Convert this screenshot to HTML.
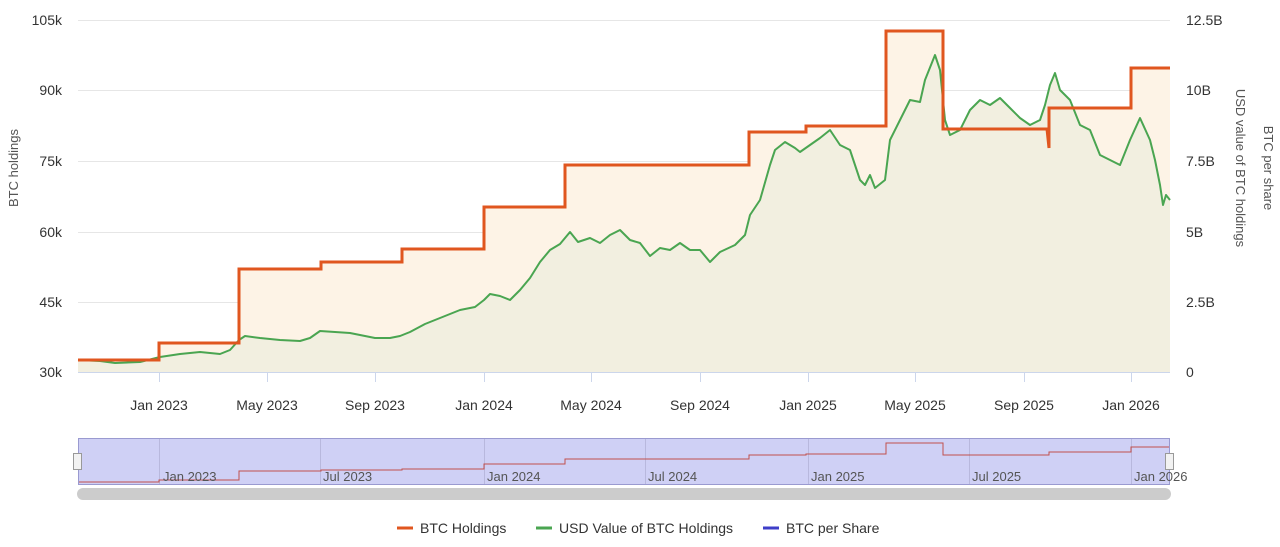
<!DOCTYPE html>
<html><head><meta charset="utf-8"><style>
body{margin:0;background:#fff;font-family:"Liberation Sans",sans-serif;}
</style></head><body>
<svg width="1280" height="542" xmlns="http://www.w3.org/2000/svg" font-family="Liberation Sans, sans-serif">
<rect width="1280" height="542" fill="#fff"/>
<g stroke="#e6e6e6" stroke-width="1">
<line x1="78" x2="1170" y1="20.5" y2="20.5"/><line x1="78" x2="1170" y1="90.5" y2="90.5"/>
<line x1="78" x2="1170" y1="161.5" y2="161.5"/><line x1="78" x2="1170" y1="232.5" y2="232.5"/>
<line x1="78" x2="1170" y1="302.5" y2="302.5"/>
</g>
<!-- orange fill -->
<path d="M78,360 H159 V343 H239 V269 H321 V262 H402 V249 H484 V207 H565 V165 H749 V132 H806 V126 H886 V31 H943 V129 H1049 V108 H1131 V68 H1170 V372 H78 Z" fill="#fdf3e6"/>
<!-- green fill -->
<path id="g" d="M78,360 L100,361 L115,363 L140,362 L160,357 L180,354 L200,352 L220,354 L230,350 L239,340 L245,336 L260,338 L280,340 L300,341 L310,338 L320,331 L335,332 L350,333 L360,335 L375,338 L390,338 L400,336 L410,332 L425,324 L440,318 L460,310 L475,307 L484,300 L490,294 L500,296 L510,300 L520,290 L530,278 L540,262 L550,250 L560,244 L570,232 L578,242 L590,238 L600,243 L610,235 L620,230 L630,240 L640,243 L650,256 L660,248 L670,250 L680,243 L690,250 L700,250 L710,262 L720,252 L735,245 L745,235 L750,215 L760,200 L770,165 L775,150 L785,142 L795,148 L800,152 L810,145 L820,138 L830,130 L840,145 L850,150 L860,180 L865,185 L870,175 L875,188 L885,180 L890,140 L900,120 L910,100 L920,102 L925,80 L935,55 L940,70 L945,120 L950,135 L960,130 L970,110 L980,100 L990,105 L1000,98 L1010,108 L1020,118 L1030,125 L1040,120 L1045,105 L1050,85 L1055,73 L1060,90 L1070,100 L1080,125 L1090,130 L1100,155 L1110,160 L1120,165 L1130,140 L1140,118 L1150,140 L1155,160 L1160,185 L1163,205 L1166,195 L1170,200 L1170,372 L78,372 Z" fill="#f2efe0"/>
<polyline fill="none" stroke="#4aa551" stroke-width="2" stroke-linejoin="round" points="78,360 100,361 115,363 140,362 160,357 180,354 200,352 220,354 230,350 239,340 245,336 260,338 280,340 300,341 310,338 320,331 335,332 350,333 360,335 375,338 390,338 400,336 410,332 425,324 440,318 460,310 475,307 484,300 490,294 500,296 510,300 520,290 530,278 540,262 550,250 560,244 570,232 578,242 590,238 600,243 610,235 620,230 630,240 640,243 650,256 660,248 670,250 680,243 690,250 700,250 710,262 720,252 735,245 745,235 750,215 760,200 770,165 775,150 785,142 795,148 800,152 810,145 820,138 830,130 840,145 850,150 860,180 865,185 870,175 875,188 885,180 890,140 900,120 910,100 920,102 925,80 935,55 940,70 945,120 950,135 960,130 970,110 980,100 990,105 1000,98 1010,108 1020,118 1030,125 1040,120 1045,105 1050,85 1055,73 1060,90 1070,100 1080,125 1090,130 1100,155 1110,160 1120,165 1130,140 1140,118 1150,140 1155,160 1160,185 1163,205 1166,195 1170,200"/>
<path d="M78,360 H159 V343 H239 V269 H321 V262 H402 V249 H484 V207 H565 V165 H749 V132 H806 V126 H886 V31 H943 V129 H1047 L1049,148 V108 H1131 V68 H1170" fill="none" stroke="#e0561f" stroke-width="3"/>
<line x1="78" x2="1170" y1="372.5" y2="372.5" stroke="#ccd6eb"/>
<g stroke="#ccd6eb"><line x1="159.5" x2="159.5" y1="372" y2="382"/><line x1="267.5" x2="267.5" y1="372" y2="382"/><line x1="375.5" x2="375.5" y1="372" y2="382"/><line x1="484.5" x2="484.5" y1="372" y2="382"/><line x1="591.5" x2="591.5" y1="372" y2="382"/><line x1="700.5" x2="700.5" y1="372" y2="382"/><line x1="808.5" x2="808.5" y1="372" y2="382"/><line x1="915.5" x2="915.5" y1="372" y2="382"/><line x1="1024.5" x2="1024.5" y1="372" y2="382"/><line x1="1131.5" x2="1131.5" y1="372" y2="382"/></g>
<g font-size="14" fill="#333" text-anchor="middle">
<text x="159" y="410">Jan 2023</text><text x="267" y="410">May 2023</text><text x="375" y="410">Sep 2023</text><text x="484" y="410">Jan 2024</text><text x="591" y="410">May 2024</text><text x="700" y="410">Sep 2024</text><text x="808" y="410">Jan 2025</text><text x="915" y="410">May 2025</text><text x="1024" y="410">Sep 2025</text><text x="1131" y="410">Jan 2026</text>
</g>
<g font-size="14" fill="#333" text-anchor="end">
<text x="62" y="25">105k</text><text x="62" y="95">90k</text><text x="62" y="166">75k</text><text x="62" y="237">60k</text><text x="62" y="307">45k</text><text x="62" y="377">30k</text>
</g>
<g font-size="14" fill="#333" text-anchor="start">
<text x="1186" y="25">12.5B</text><text x="1186" y="95">10B</text><text x="1186" y="166">7.5B</text><text x="1186" y="237">5B</text><text x="1186" y="307">2.5B</text><text x="1186" y="377">0</text>
</g>
<text transform="translate(18,168) rotate(-90)" font-size="13" fill="#555" text-anchor="middle">BTC holdings</text>
<text transform="translate(1236,168) rotate(90)" font-size="13" fill="#555" text-anchor="middle">USD value of BTC holdings</text>
<text transform="translate(1264,168) rotate(90)" font-size="13" fill="#555" text-anchor="middle">BTC per share</text>
<!-- navigator -->
<rect x="78" y="438" width="1092" height="47" fill="#cfd0f5"/>
<g stroke="#b8b8dd"><line x1="159.5" x2="159.5" y1="438" y2="485"/><line x1="320.5" x2="320.5" y1="438" y2="485"/><line x1="484.5" x2="484.5" y1="438" y2="485"/><line x1="645.5" x2="645.5" y1="438" y2="485"/><line x1="808.5" x2="808.5" y1="438" y2="485"/><line x1="969.5" x2="969.5" y1="438" y2="485"/><line x1="1131.5" x2="1131.5" y1="438" y2="485"/></g>
<path d="M78,482 H159 V480 H239 V471 H321 V470 H402 V469 H484 V464 H565 V459 H749 V455 H806 V454 H886 V443 H943 V455 H1049 V452 H1131 V447 H1170" fill="none" stroke="#c0504d" stroke-width="1"/>
<rect x="78.5" y="438.5" width="1091" height="46" fill="none" stroke="#9a9ad0"/>
<g font-size="13" fill="#555">
<text x="163" y="481">Jan 2023</text><text x="323" y="481">Jul 2023</text><text x="487" y="481">Jan 2024</text><text x="648" y="481">Jul 2024</text><text x="811" y="481">Jan 2025</text><text x="972" y="481">Jul 2025</text><text x="1134" y="481">Jan 2026</text>
</g>
<rect x="73.5" y="453.5" width="8" height="16" fill="#f2f2f2" stroke="#999"/>
<rect x="1165.5" y="453.5" width="8" height="16" fill="#f2f2f2" stroke="#999"/>
<rect x="77" y="488" width="1094" height="12" rx="6" fill="#cccccc"/>
<!-- legend -->
<line x1="397" x2="413" y1="528" y2="528" stroke="#e0561f" stroke-width="3"/>
<text x="420" y="533" font-size="14" fill="#333">BTC Holdings</text>
<line x1="536" x2="552" y1="528" y2="528" stroke="#4aa551" stroke-width="3"/>
<text x="559" y="533" font-size="14" fill="#333">USD Value of BTC Holdings</text>
<line x1="763" x2="779" y1="528" y2="528" stroke="#3e3ec8" stroke-width="3"/>
<text x="786" y="533" font-size="14" fill="#333">BTC per Share</text>
</svg>
</body></html>
